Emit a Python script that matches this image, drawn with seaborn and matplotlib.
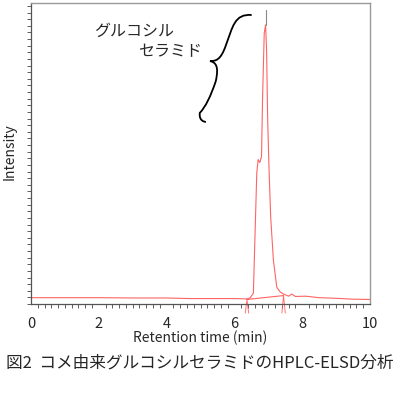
import numpy as np
import pandas as pd
import matplotlib
matplotlib.use('Agg')
import matplotlib.pyplot as plt
from matplotlib.path import Path
from matplotlib.patches import PathPatch
from matplotlib.ticker import MultipleLocator
import seaborn as sns

# クロマトグラム (読み取り値)
time_min = [0.0, 1.0, 2.0, 3.0, 4.0, 4.7, 5.5, 6.0, 6.37, 6.46, 6.56, 6.61, 6.66, 6.70,
            6.75, 6.80, 6.83, 6.88, 6.92, 6.95, 6.98, 7.02, 7.07, 7.15, 7.25, 7.35,
            7.45, 7.6, 7.69, 7.8, 8.1, 8.5, 9.0, 9.5, 10.0]
intensity = [2.1, 2.1, 2.1, 2.0, 2.0, 1.8, 1.8, 1.8, 1.7, 2.0, 3.6, 23.6, 43.5, 48.0,
             47.0, 49.0, 68.0, 90.0, 92.7, 84.0, 62.0, 45.5, 29.0, 14.6, 5.6, 4.0,
             3.3, 2.6, 3.3, 2.5, 2.6, 2.1, 1.9, 1.6, 1.5]

# 積分ベースライン
base_time = [6.37, 7.45]
base_int = [1.5, 2.8]
# ピーク頂点の灰色トレース
top_time = [6.92, 6.92]
top_int = [92.7, 97.7]

x_ticks = [0, 2, 4, 6, 8, 10]
caption = '図2  コメ由来グルコシルセラミドのHPLC-ELSD分析'

sns.set_theme(style='white')
plt.rcParams['font.family'] = ['Noto Sans CJK JP', 'DejaVu Sans']

fig = plt.figure(figsize=(4.0, 3.95), dpi=100)
ax = fig.add_axes([31/400, 1-304/395, 339/400, 301/395])

df = pd.DataFrame({'t': time_min, 'v': intensity})
sns.lineplot(data=df, x='t', y='v', ax=ax, color='#ff3030', lw=0.8, alpha=0.75)
ax.plot(base_time, base_int, color='#ff3030', lw=0.8, alpha=0.75)
ax.plot(top_time, top_int, color='#888888', lw=0.8)
# 積分マーカー
for bt, bv in zip(base_time, base_int):
    ax.plot([bt - 0.05, bt, bt + 0.05], [-3, bv, -3], color='#ff5050', lw=0.7, alpha=0.8, clip_on=False)

ax.set_xlim(0, 10)
ax.set_ylim(0, 100)
ax.xaxis.set_major_locator(MultipleLocator(2))
ax.xaxis.set_minor_locator(MultipleLocator(0.2))
ax.set_yticks([])
ax.yaxis.set_minor_locator(MultipleLocator(2.2))
ax.tick_params(axis='x', which='major', length=5, width=0.8, color='#444444', labelsize=10.5, pad=4)
ax.tick_params(axis='x', which='minor', length=3, width=0.6, color='#444444', bottom=True)
ax.tick_params(axis='y', which='minor', length=3, width=0.6, color='#444444', left=True)
for side in ['top', 'right']:
    ax.spines[side].set_color('#999999')
    ax.spines[side].set_linewidth(1.0)
for side in ['left', 'bottom']:
    ax.spines[side].set_color('#555555')
    ax.spines[side].set_linewidth(0.9)

ax.set_xlabel('Retention time (min)', fontsize=10, labelpad=0)
ax.set_ylabel('')
fig.text(10/400, 1-152/395, 'Intensity', fontsize=10, rotation=90, ha='center', va='center')

# 注釈の括弧
brace = [(6.51, 96.0), (6.0, 96.5), (5.95, 92.0), (5.75, 86.0),
         (5.6, 81.0), (5.45, 80.7), (5.28, 80.7),
         (5.45, 80.3), (5.55, 79.0), (5.45, 74.0),
         (5.3, 69.0), (5.15, 65.5), (4.98, 63.5),
         (4.95, 61.0), (5.1, 60.5), (5.16, 60.5)]
codes = [Path.MOVETO] + [Path.CURVE4] * 15
ax.add_patch(PathPatch(Path(brace, codes), fill=False, lw=1.3, color='black'))

ax.text(3.05, 90.5, 'グルコシル', fontsize=11.5, ha='center', va='center')
ax.text(4.1, 84.0, 'セラミド', fontsize=11.5, ha='center', va='center')

fig.text(0.5, 1-363/395, caption, fontsize=12, ha='center', va='center')

fig.savefig('out.png', dpi=100)
